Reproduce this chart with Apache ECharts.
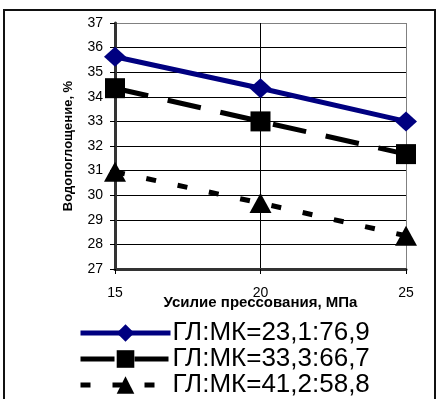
<!DOCTYPE html>
<html>
<head>
<meta charset="utf-8">
<script src="https://cdn.jsdelivr.net/npm/echarts@6/dist/echarts.min.js"></script>
<style>
  html, body { margin: 0; padding: 0; background: #fff; }
  #chart { width: 437px; height: 399px; }
</style>
</head>
<body>
<div id="chart"></div>
<script>
// Pressing force, MPa
const pressure = [15, 20, 25];
// Water absorption, % for each binder ratio
const seriesNames = ['ГЛ:МК=23,1:76,9', 'ГЛ:МК=33,3:66,7', 'ГЛ:МК=41,2:58,8'];
const absorptionA = [35.63, 34.35, 33.0];
const absorptionB = [34.35, 33.0, 31.67];
const absorptionC = [30.95, 29.68, 28.35];

const xTitle = 'Усилие прессования, МПа';
const yTitle = 'Водопоглощение, %';

const pairs = vals => pressure.map((p, i) => [p, vals[i]]);
const font = 'Arial, "Liberation Sans", sans-serif';

const chart = echarts.init(document.getElementById('chart'), null, { renderer: 'canvas' });

// grid lines: black inside, grey at the top/right frame
const yLineColors = ['#000', '#000', '#000', '#000', '#000', '#000', '#000', '#000', '#000', '#000', '#808080'];
const xLineColors = ['#000', '#000', '#808080'];

const seriesStyles = [
  { color: '#000080', type: 'solid' },
  { color: '#000', type: [34, 20] },
  { color: '#000', type: [10, 22] }
];

chart.setOption({
  animation: false,
  backgroundColor: '#fff',
  graphic: [{
    type: 'rect',
    shape: { x: 4, y: 10, width: 431, height: 400 },
    style: { fill: 'none', stroke: '#111', lineWidth: 2 },
    z: -1
  }],
  grid: { left: 115, top: 23, right: 31, bottom: 130 },
  xAxis: {
    type: 'value',
    min: 15, max: 25, interval: 5,
    name: xTitle,
    nameLocation: 'middle',
    nameGap: 26,
    nameMoveOverlap: false,
    nameTextStyle: { fontFamily: font, fontSize: 15, fontWeight: 'bold', color: '#000' },
    axisLine: { show: true, onZero: false, lineStyle: { color: '#333', width: 3 } },
    axisTick: { show: true, length: 5, lineStyle: { color: '#000', width: 1 } },
    axisLabel: { fontFamily: font, fontSize: 14, color: '#000', margin: 17 },
    splitLine: { show: true, lineStyle: { color: xLineColors, width: 1 } }
  },
  yAxis: {
    type: 'value',
    min: 27, max: 37, interval: 1,
    name: yTitle,
    nameLocation: 'middle',
    nameRotate: 90,
    nameGap: 40,
    nameMoveOverlap: false,
    nameTextStyle: { fontFamily: font, fontSize: 13, fontWeight: 'bold', color: '#000' },
    axisLine: { show: true, lineStyle: { color: '#333', width: 3 } },
    axisTick: { show: true, length: 5, lineStyle: { color: '#000', width: 1 } },
    axisLabel: { fontFamily: font, fontSize: 14, color: '#000', margin: 12 },
    splitLine: { show: true, lineStyle: { color: yLineColors, width: 1 } }
  },
  legend: {
    orient: 'vertical',
    left: 78,
    top: 320,
    height: 100,
    padding: 0,
    itemWidth: 90,
    itemHeight: 22,
    itemGap: 0,
    textStyle: { fontFamily: font, fontSize: 26, lineHeight: 26, color: '#000', padding: [0, 0, 0, -3] },
    data: seriesNames.map((n, i) => ({
      name: n,
      lineStyle: { width: 5, color: seriesStyles[i].color, type: seriesStyles[i].type }
    }))
  },
  series: [
    {
      name: seriesNames[0],
      type: 'line',
      data: pairs(absorptionA),
      symbol: 'diamond',
      symbolSize: [22, 20],
      lineStyle: { color: seriesStyles[0].color, width: 5 },
      itemStyle: { color: '#000080' },
      z: 3
    },
    {
      name: seriesNames[1],
      type: 'line',
      data: pairs(absorptionB),
      symbol: 'rect',
      symbolSize: [20, 20],
      lineStyle: { color: '#000', width: 5, type: seriesStyles[1].type },
      itemStyle: { color: '#000' },
      z: 2
    },
    {
      name: seriesNames[2],
      type: 'line',
      data: pairs(absorptionC),
      symbol: 'triangle',
      symbolSize: [22, 20],
      lineStyle: { color: '#000', width: 5, type: seriesStyles[2].type },
      itemStyle: { color: '#000' },
      z: 2
    }
  ]
});
</script>
</body>
</html>
